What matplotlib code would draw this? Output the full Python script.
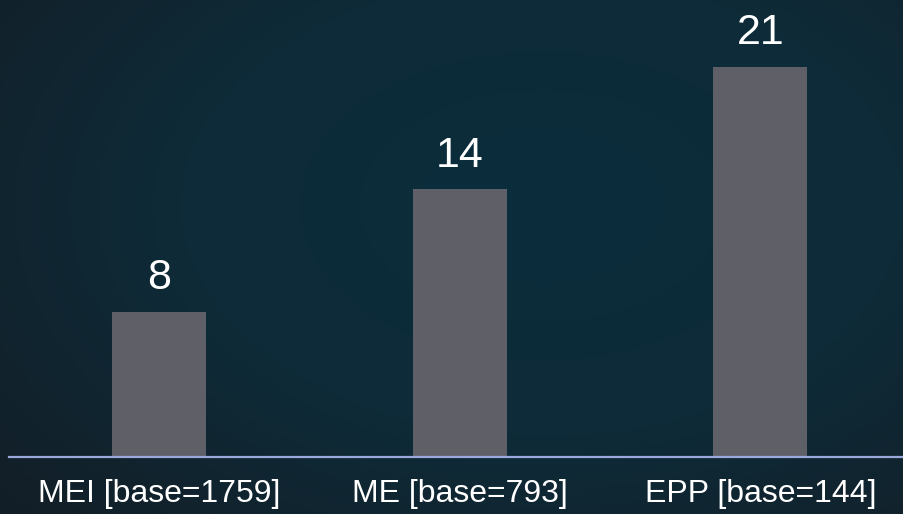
import numpy as np
import matplotlib
matplotlib.use("Agg")
import matplotlib.pyplot as plt
from matplotlib.colors import LinearSegmentedColormap

# Data
kategori = ["MEI [base=1759]", "ME [base=793]", "EPP [base=144]"]
nilai = [7.8, 14.4, 21.0]
label_nilai = ["8", "14", "21"]

plt.rcParams['font.family'] = ['Liberation Sans', 'DejaVu Sans']

fig = plt.figure(figsize=(9.04, 5.14), dpi=100)

# Latar belakang gradasi radial
bg = fig.add_axes([0, 0, 1, 1])
yy, xx = np.mgrid[0:1:300j, 0:1:500j]
r = np.sqrt(((xx - 0.6) / 0.8) ** 2 + ((yy - 0.6) / 0.9) ** 2)
cmap_bg = LinearSegmentedColormap.from_list("bg", ["#0b2d3b", "#0e2b38", "#131e27"])
bg.imshow(np.clip(r, 0, 1), cmap=cmap_bg, aspect="auto", extent=[0, 1, 0, 1], origin="lower")
bg.axis("off")

ax = fig.add_axes([9 / 904, 57 / 514, 895 / 904, 457 / 514])
ax.patch.set_alpha(0)
x = np.arange(len(kategori))
bars = ax.bar(x, nilai, width=0.313, color="#5f5f68")
ax.set_xlim(-0.5, 2.478)
ax.set_ylim(0, 24.6)

for b, lbl in zip(bars, label_nilai):
    ax.annotate(lbl, (b.get_x() + b.get_width() / 2, b.get_height()),
                xytext=(0, 10), textcoords="offset points",
                ha="center", va="bottom", color="white", fontsize=31)

for s in ["top", "right", "left"]:
    ax.spines[s].set_visible(False)
ax.spines["bottom"].set_color("#9aa8dc")
ax.spines["bottom"].set_linewidth(1.6)
ax.set_yticks([])
ax.set_xticks(x)
ax.set_xticklabels(kategori, color="white", fontsize=23)
ax.tick_params(axis="x", length=0, pad=16)

fig.savefig("out.png", dpi=100)
